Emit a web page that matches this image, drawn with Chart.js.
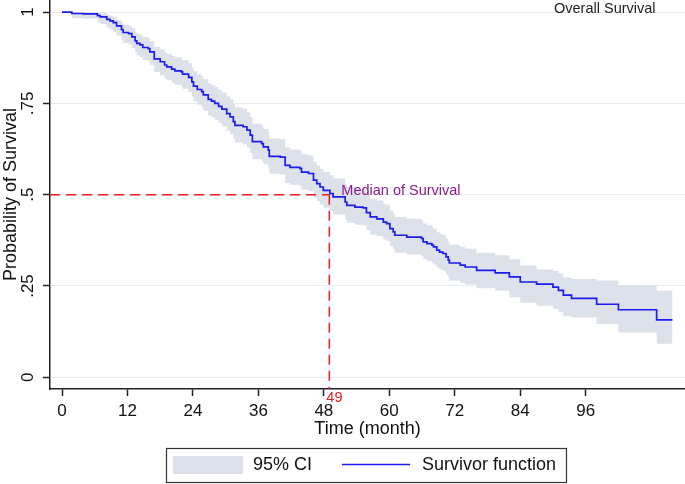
<!DOCTYPE html>
<html>
<head>
<meta charset="utf-8">
<script src="https://cdn.jsdelivr.net/npm/chart.js@4.4.1/dist/chart.umd.min.js"></script>
<style>
  html, body { margin: 0; padding: 0; background: #fff; }
</style>
</head>
<body>
<canvas id="kmChart" width="685" height="484"></canvas>
<script>
// ---- Kaplan-Meier estimate ----
const months = [
  0, 1.8, 3.9, 6.5, 7.0, 8.2, 8.8, 9.4, 10.0, 10.9,
  11.2, 12.2, 12.8, 13.4, 13.7, 14.3, 14.8, 15.8, 16.1, 16.9,
  18.0, 18.8, 19.2, 20.1, 20.7, 21.9, 22.1, 23.2, 23.8, 24.1,
  24.8, 25.6, 25.9, 26.8, 27.4, 28.0, 28.7, 29.3, 30.2, 30.8,
  31.4, 31.7, 33.2, 33.9, 34.5, 34.9, 36.6, 36.9, 37.8, 38.0,
  40.0, 40.9, 41.8, 43.6, 43.9, 45.2, 46.1, 46.7, 47.3, 47.9,
  49.1, 49.7, 51.9, 52.2, 53.7, 55.2, 55.8, 56.5, 57.7, 58.9,
  59.5, 60.1, 60.7, 61.0, 63.2, 65.9, 66.2, 66.9, 67.8, 68.1,
  68.7, 69.2, 69.8, 70.4, 70.8, 71.0, 73.0, 73.9, 76.0, 79.4,
  82.0, 84.0, 87.0, 90.0, 91.0, 91.9, 93.4, 98.0, 102.0, 109.0,
  111.9
];
const survival = [
  1.000, 0.996, 0.995, 0.990, 0.987, 0.980, 0.976, 0.971, 0.962, 0.952,
  0.944, 0.941, 0.932, 0.921, 0.914, 0.910, 0.903, 0.900, 0.891, 0.872,
  0.864, 0.855, 0.850, 0.844, 0.839, 0.836, 0.830, 0.821, 0.809, 0.797,
  0.788, 0.782, 0.773, 0.761, 0.756, 0.750, 0.742, 0.734, 0.722, 0.713,
  0.700, 0.690, 0.686, 0.677, 0.663, 0.645, 0.640, 0.631, 0.622, 0.605,
  0.603, 0.580, 0.575, 0.572, 0.562, 0.558, 0.540, 0.530, 0.521, 0.512,
  0.503, 0.494, 0.480, 0.471, 0.466, 0.464, 0.451, 0.439, 0.434, 0.425,
  0.421, 0.407, 0.398, 0.389, 0.384, 0.380, 0.371, 0.366, 0.362, 0.357,
  0.348, 0.343, 0.339, 0.330, 0.321, 0.313, 0.307, 0.302, 0.293, 0.286,
  0.275, 0.261, 0.255, 0.247, 0.238, 0.225, 0.216, 0.200, 0.185, 0.157,
  0.157
];
const ciUpper = [
  1.000, 0.999, 0.999, 0.998, 0.997, 0.993, 0.990, 0.987, 0.979, 0.971,
  0.966, 0.963, 0.956, 0.947, 0.941, 0.938, 0.932, 0.929, 0.921, 0.905,
  0.898, 0.890, 0.886, 0.880, 0.876, 0.873, 0.868, 0.860, 0.849, 0.838,
  0.830, 0.824, 0.816, 0.805, 0.800, 0.795, 0.787, 0.780, 0.769, 0.761,
  0.748, 0.739, 0.735, 0.726, 0.712, 0.694, 0.689, 0.680, 0.671, 0.654,
  0.652, 0.629, 0.624, 0.621, 0.611, 0.607, 0.590, 0.580, 0.571, 0.562,
  0.553, 0.544, 0.530, 0.521, 0.516, 0.514, 0.501, 0.489, 0.484, 0.475,
  0.471, 0.457, 0.448, 0.439, 0.434, 0.430, 0.421, 0.416, 0.412, 0.407,
  0.398, 0.393, 0.389, 0.380, 0.371, 0.363, 0.357, 0.352, 0.341, 0.334,
  0.323, 0.306, 0.296, 0.291, 0.284, 0.273, 0.269, 0.265, 0.253, 0.237,
  0.237
];
const ciLower = [
  1.000, 0.983, 0.982, 0.972, 0.967, 0.958, 0.952, 0.946, 0.936, 0.924,
  0.915, 0.911, 0.901, 0.889, 0.881, 0.877, 0.869, 0.866, 0.856, 0.836,
  0.827, 0.818, 0.813, 0.806, 0.801, 0.797, 0.790, 0.781, 0.768, 0.755,
  0.746, 0.740, 0.730, 0.717, 0.712, 0.705, 0.697, 0.688, 0.675, 0.666,
  0.653, 0.643, 0.638, 0.629, 0.615, 0.597, 0.592, 0.583, 0.574, 0.557,
  0.555, 0.532, 0.527, 0.524, 0.514, 0.510, 0.492, 0.482, 0.473, 0.464,
  0.455, 0.446, 0.432, 0.423, 0.418, 0.416, 0.403, 0.391, 0.386, 0.377,
  0.373, 0.359, 0.350, 0.341, 0.336, 0.332, 0.323, 0.318, 0.314, 0.309,
  0.300, 0.295, 0.291, 0.282, 0.273, 0.265, 0.259, 0.254, 0.244, 0.237,
  0.219, 0.204, 0.196, 0.187, 0.179, 0.167, 0.164, 0.146, 0.123, 0.092,
  0.092
];

const xTicks = [0, 12, 24, 36, 48, 60, 72, 84, 96];
const yTicks = [0, 0.25, 0.5, 0.75, 1];
const yTickLabels = ['0', '.25', '.5', '.75', '1'];
const xRange = [-2.2, 114.2];
const yRange = [-0.032, 1.033];

const medianTime = 49;
const medianSurvival = 0.5;
const medianLabel = 'Median of Survival';
const chartTitle = 'Overall Survival';

const FONT = '"Liberation Sans", Arial, sans-serif';
const BLUE = '#1c1cf0';
const BAND = '#dde1e9';
const RED = '#e81a22';

const pts = (ys) => months.map((m, i) => ({ x: m, y: ys[i] }));

// annotations + boxed legend, Stata style
const kmExtras = {
  id: 'kmExtras',
  afterDraw(chart) {
    const { ctx, scales: { x, y } } = chart;
    const mx = x.getPixelForValue(medianTime);
    const my = y.getPixelForValue(medianSurvival);
    ctx.save();
    ctx.textBaseline = 'middle';
    ctx.textAlign = 'left';

    ctx.font = '14.5px ' + FONT;
    ctx.fillStyle = '#8b1c8b';
    ctx.fillText(medianLabel, mx + 12, my - 4);

    ctx.fillStyle = RED;
    ctx.fillText(String(medianTime), mx - 3, y.bottom + 9);

    ctx.fillStyle = '#222';
    ctx.fillText(chartTitle, 554, 9);

    // legend
    const ds = chart.data.datasets;
    ctx.strokeStyle = '#333';
    ctx.lineWidth = 1.2;
    ctx.strokeRect(166.5, 448.5, 400, 34);
    ctx.fillStyle = BAND;
    ctx.fillRect(173, 456, 70, 18);
    ctx.strokeStyle = BLUE;
    ctx.lineWidth = 1.5;
    ctx.beginPath();
    ctx.moveTo(342, 464.5);
    ctx.lineTo(410, 464.5);
    ctx.stroke();
    ctx.font = '18px ' + FONT;
    ctx.fillStyle = '#111';
    ctx.fillText(ds[3].label, 253, 465);
    ctx.fillText(ds[0].label, 422, 465);
    ctx.restore();
  }
};

new Chart(document.getElementById('kmChart'), {
  type: 'line',
  data: {
    datasets: [
      {
        label: 'Survivor function',
        data: pts(survival),
        borderColor: BLUE,
        borderWidth: 1.7,
        stepped: true,
        pointRadius: 0,
        fill: false,
        order: 0
      },
      {
        label: 'median h',
        data: [{ x: xRange[0], y: medianSurvival }, { x: medianTime, y: medianSurvival }],
        borderColor: RED,
        borderWidth: 1.5,
        borderDash: [10, 6],
        pointRadius: 0,
        fill: false,
        order: 1
      },
      {
        label: 'median v',
        data: [{ x: medianTime, y: medianSurvival }, { x: medianTime, y: yRange[0] }],
        borderColor: RED,
        borderWidth: 1.5,
        borderDash: [10, 6],
        pointRadius: 0,
        fill: false,
        order: 1
      },
      {
        label: '95% CI',
        data: pts(ciUpper),
        borderColor: 'rgba(0,0,0,0)',
        borderWidth: 0,
        backgroundColor: BAND,
        stepped: true,
        pointRadius: 0,
        fill: '+1',
        order: 2
      },
      {
        label: 'ci lower',
        data: pts(ciLower),
        borderColor: 'rgba(0,0,0,0)',
        borderWidth: 0,
        stepped: true,
        pointRadius: 0,
        fill: false,
        order: 3
      }
    ]
  },
  options: {
    responsive: false,
    devicePixelRatio: 1,
    animation: false,
    layout: { padding: 0 },
    plugins: {
      legend: { display: false },
      tooltip: { enabled: false }
    },
    scales: {
      x: {
        type: 'linear',
        min: xRange[0],
        max: xRange[1],
        afterBuildTicks: (s) => { s.ticks = xTicks.map(v => ({ value: v })); },
        afterFit: (s) => { s.height = 95; s.paddingLeft = 0; s.paddingRight = 0; },
        ticks: {
          padding: 5,
          color: '#111',
          font: { family: FONT, size: 17 },
          callback: (v) => String(v)
        },
        grid: {
          drawOnChartArea: false,
          tickLength: 7,
          tickColor: '#222',
          tickWidth: 1.5
        },
        border: { color: '#222', width: 1.5 },
        title: {
          display: true,
          text: 'Time (month)',
          color: '#111',
          font: { family: FONT, size: 18 },
          padding: { top: 0, bottom: 44 }
        }
      },
      y: {
        type: 'linear',
        min: yRange[0],
        max: yRange[1],
        afterBuildTicks: (s) => { s.ticks = yTicks.map(v => ({ value: v })); },
        afterFit: (s) => { s.width = 50; s.paddingTop = 0; s.paddingBottom = 0; },
        ticks: {
          minRotation: 90,
          maxRotation: 90,
          crossAlign: 'center',
          padding: 3,
          color: '#111',
          font: { family: FONT, size: 17 },
          callback: (v) => yTickLabels[yTicks.indexOf(v)]
        },
        grid: {
          color: '#e4edf1',
          lineWidth: 1,
          tickLength: 7,
          tickColor: '#222',
          tickWidth: 1.5
        },
        border: { color: '#222', width: 1.5 },
        title: {
          display: true,
          text: 'Probability of Survival',
          color: '#111',
          font: { family: FONT, size: 18 },
          padding: { top: 0, bottom: 0 }
        }
      }
    }
  },
  plugins: [kmExtras]
});
</script>
</body>
</html>
